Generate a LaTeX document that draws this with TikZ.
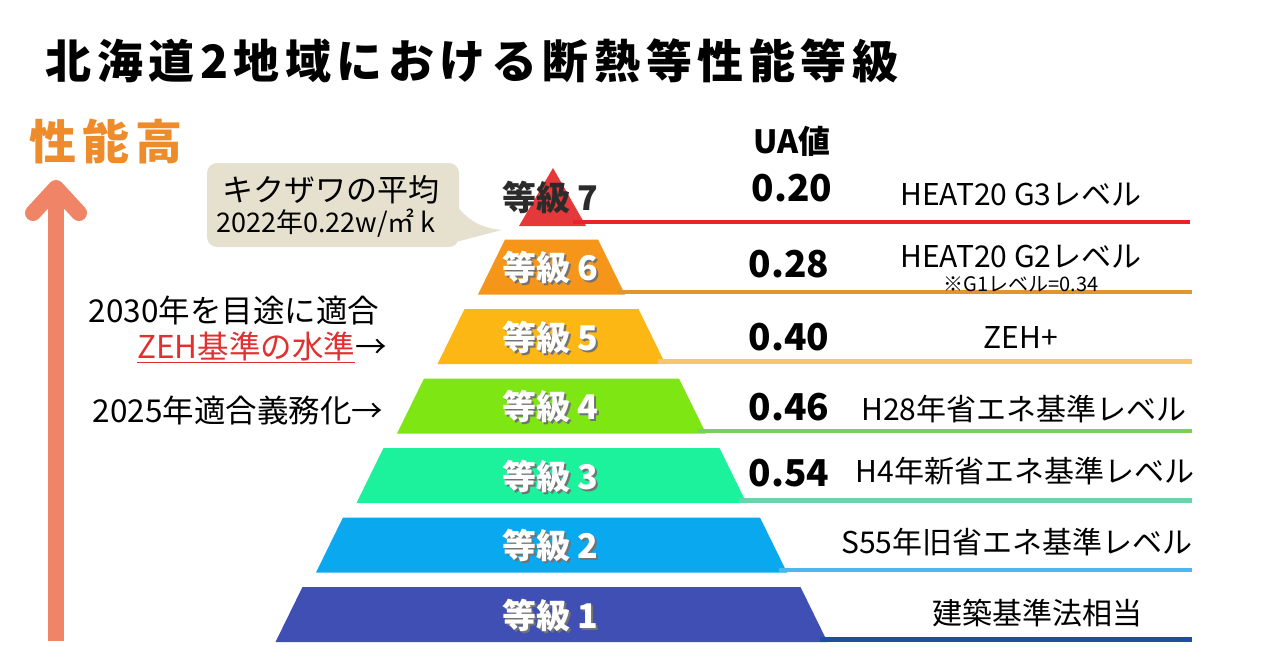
\documentclass[tikz,border=0pt]{standalone}
\usepackage{fontspec}
\setmainfont{Noto Sans CJK JP}
\definecolor{t1}{HTML}{3F4FB3}
\definecolor{t2}{HTML}{0AA9EF}
\definecolor{t3}{HTML}{1BF29B}
\definecolor{t4}{HTML}{7EE613}
\definecolor{t5}{HTML}{FDB714}
\definecolor{t6}{HTML}{F5961B}
\definecolor{t7}{HTML}{E5383B}
\definecolor{l1}{HTML}{1F4EA0}
\definecolor{l2}{HTML}{4DB6EE}
\definecolor{l3}{HTML}{6BD3AB}
\definecolor{l4}{HTML}{78CF5B}
\definecolor{l5}{HTML}{F8C46E}
\definecolor{l6}{HTML}{E0952F}
\definecolor{l7}{HTML}{E8232A}
\definecolor{arrowc}{HTML}{EF8466}
\definecolor{highc}{HTML}{EE8C2B}
\definecolor{bubblec}{HTML}{E6E1CF}
\definecolor{zehred}{HTML}{E03030}
\definecolor{darktxt}{HTML}{2B2B2B}
\begin{document}
\begin{tikzpicture}[x=1pt,y=-1pt,
  tierlbl/.style={font=\fontsize{34}{34}\selectfont\bfseries, inner sep=0pt},
  tiershadow/.style={tierlbl, text=black!55},
  valtxt/.style={font=\fontsize{37}{37}\selectfont\bfseries, inner sep=0pt, text=black},
  desctxt/.style={font=\fontsize{30}{30}\selectfont, inner sep=0pt, text=black},
  lefttxt/.style={font=\fontsize{31.5}{31.5}\selectfont, inner sep=0pt, text=black},
  levline/.style={line width=4.5pt},
  bigarrow/.style={arrowc, line width=16pt}]
\useasboundingbox (0,0) rectangle (1280,670);
\fill[white] (0,0) rectangle (1280,670);

% title
\node[inner sep=0pt, font=\fontsize{46}{46}\selectfont\bfseries\addfontfeatures{LetterSpace=12}] (title) at (472,61) {北海道2地域における断熱等性能等級};

% performance arrow
\node[inner sep=0pt, text=highc, font=\fontsize{47}{47}\selectfont\bfseries\addfontfeatures{LetterSpace=12}] (high) at (106,141) {性能高};
\coordinate (abot) at (56,641);
\coordinate (atop) at (56,188);
\coordinate (awl) at (33,213);
\coordinate (awr) at (79,213);
\draw[bigarrow] (abot) -- (atop);
\draw[bigarrow, line cap=round, line join=round] (awl) -- (atop) -- (awr);

% tiers 1..6
\foreach \k/\fc/\lc in {1/t1/l1,2/t2/l2,3/t3/l3,4/t4/l4,5/t5/l5,6/t6/l6} {
  \pgfmathsetmacro\tyt{587-69.5*(\k-1)}
  \pgfmathsetmacro\tyb{\tyt+55}
  \pgfmathsetmacro\thwt{249-40.5*(\k-1)}
  \pgfmathsetmacro\thwb{276-40.5*(\k-1)}
  \pgfmathsetmacro\tyl{\tyb-2.5}
  \pgfmathsetmacro\tys{\tyt+30}
  \pgfmathsetmacro\tyg{\tyt+28}
  \fill[\fc] ({551.5-\thwt},\tyt) -- ({551.5+\thwt},\tyt) -- ({551.5+\thwb},\tyb) -- ({551.5-\thwb},\tyb) -- cycle;
  \coordinate (L\k) at ({551.5+\thwb-8},\tyl);
  \coordinate (R\k) at (1192,\tyl);
  \draw[levline,\lc] (L\k) -- (R\k);
  \node[tiershadow] (s\k) at (552.5,\tys) {等級\hspace{7pt}\k};
  \node[tierlbl, text=white] (g\k) at (550.5,\tyg) {等級\hspace{7pt}\k};
}

% tier 7
\coordinate (p7a) at (553,168);
\coordinate (p7b) at (519,226);
\coordinate (p7c) at (586,226);
\fill[t7] (p7a) -- (p7c) -- (p7b) -- cycle;
\coordinate (L7) at (573,222);
\coordinate (R7) at (1190,222);
\draw[levline,l7] (L7) -- (R7);
\node[tierlbl, text=darktxt] (g7) at (550,197) {等級\hspace{7pt}7};

% UA values
\node[valtxt, font=\fontsize{32}{32}\selectfont\bfseries] (ua) at (792,141) {UA値};
\node[valtxt] (v7) at (792,188) {0.20};
\node[valtxt] (v6) at (789,264) {0.28};
\node[valtxt] (v5) at (789,337) {0.40};
\node[valtxt] (v4) at (789,407) {0.46};
\node[valtxt] (v3) at (789,473) {0.54};

% descriptions
\node[desctxt] (d7) at (1021,195) {HEAT20 G3レベル};
\node[desctxt] (d6) at (1021,257) {HEAT20 G2レベル};
\node[desctxt, font=\fontsize{20}{20}\selectfont] (d6b) at (1021,284) {※G1レベル=0.34};
\node[desctxt] (d5) at (1021,337) {ZEH+};
\node[desctxt] (d4) at (1024,409) {H28年省エネ基準レベル};
\node[desctxt] (d3) at (1025,471) {H4年新省エネ基準レベル};
\node[desctxt] (d2) at (1017,542) {S55年旧省エネ基準レベル};
\node[desctxt] (d1) at (1037,613) {建築基準法相当};

% left notes
\node[lefttxt] (n1) at (234,310) {2030年を目途に適合};
\node[lefttxt, anchor=east] (n2) at (387,347) {{\color{zehred}\underline{ZEH基準の水準}}→};
\node[lefttxt] (n3) at (238,410) {2025年適合義務化→};

% speech bubble
\coordinate (tip) at (502,230);
\coordinate (tt) at (452,200);
\coordinate (tb) at (452,243);
\fill[bubblec, rounded corners=10pt] (207,163) rectangle (459,247);
\fill[bubblec] (tt) .. controls (468,222) and (482,228) .. (tip) -- (tb) -- cycle;
\node[inner sep=0pt, font=\fontsize{31}{31}\selectfont] (b1) at (331,190) {キクザワの平均};
\node[inner sep=0pt, font=\fontsize{27}{27}\selectfont] (b2) at (326,223) {2022年0.22w/㎡ k};
\end{tikzpicture}
\end{document}
